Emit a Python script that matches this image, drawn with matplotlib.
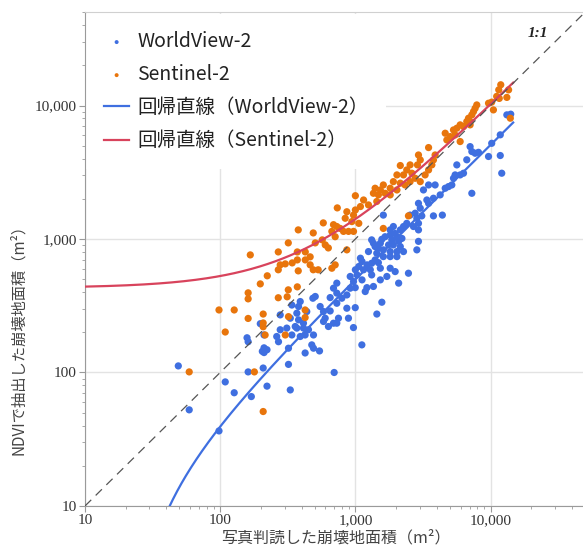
import matplotlib
matplotlib.use("Agg")
import matplotlib.pyplot as plt
from matplotlib.ticker import LogLocator, FuncFormatter, NullFormatter
import numpy as np

# ---- data (m2) ----
wv2_x = [49, 59, 98, 109, 127, 170, 161, 208, 222, 158, 161, 198, 211, 211, 211, 222, 205,
         689, 729, 794, 916, 998, 1217, 1183, 651, 505, 485, 391, 339, 380, 437, 549, 581, 651,
         729, 865, 865, 998, 889, 750, 729, 632, 581, 689, 598, 369, 278, 330, 380, 413, 359,
         311, 278, 369, 413, 450, 425, 490, 391, 339, 262, 270, 320, 476, 490, 543, 425, 320,
         697, 330, 968, 1117, 1442, 1570,
         4240, 3780, 3380, 3480, 2930, 3020, 2770, 2540, 2850, 3100, 2930, 2690, 2930, 3780,
         4400, 2400, 2270, 2150, 1910, 1810, 1970, 1810, 2030, 2210, 2090, 1860, 1660, 1570,
         1530, 1760, 1910, 2150, 2270, 2030, 1810, 1610, 1400, 1320, 1360, 1480, 1440, 1250,
         1610, 1810, 2030, 1400, 1480, 1320, 1220, 1120, 1090, 1060, 1000, 1150, 1290, 1530,
         1810, 1710, 1530, 1320, 1030, 916, 969, 1120, 1360, 1970, 2470, 2930, 2850, 2090,
         729, 1610, 3190, 3480, 3890,
         13200, 14100, 11800, 10200, 7060, 7270, 7690, 8140, 9660, 11800, 6670, 5630, 5960,
         5470, 6310, 5320, 5170, 4890, 4620, 12100, 7270]
wv2_y = [112, 52.5, 36.5, 85, 70.5, 66, 101, 108, 79, 182, 170, 232, 191, 153, 141, 148, 144,
         428, 393, 360, 428, 432, 432, 404, 364, 371, 360, 340, 320, 312, 286, 312, 286, 289,
         330, 381, 303, 306, 255, 255, 234, 221, 241, 234, 255, 278, 270, 255, 248, 234, 221,
         215, 209, 215, 215, 209, 191, 191, 186, 191, 186, 170, 152, 161, 152, 145, 140, 115,
         100, 74, 217, 161, 274, 336,
         2140, 2020, 1960, 1850, 1850, 1700, 1560, 1510, 1430, 1490, 1310, 1240, 1170, 1490,
         1510, 1310, 1240, 1170, 1240, 1170, 1100, 1070, 1040, 1010, 960, 985, 1040, 995,
         930, 903, 903, 877, 805, 805, 805, 829, 877, 985, 930, 853, 782, 805,
         738, 738, 738, 697, 665, 658, 640, 678, 718, 622, 588, 588, 588, 604,
         604, 524, 494, 538, 538, 524, 480, 494, 441, 570, 554, 960, 829, 467,
         467, 1510, 2330, 2540, 2540,
         8510, 8610, 6030, 5210, 4920, 4520, 4390, 4460, 4150, 4220, 3920, 3590, 3020,
         3020, 3110, 2850, 2540, 2470, 2400, 3110, 2200]

s2_x = [59, 98, 127, 109, 161, 179, 208, 208, 208, 215, 208,
        167, 269, 319, 378, 488, 579, 735, 463, 426, 372, 372, 426, 341, 303, 278, 269, 378,
        463, 488, 531, 505, 569, 599, 631, 223, 198, 161, 161, 269, 319, 372, 313,
        425, 425, 320, 303,
        1150, 1440, 1250, 1090, 1000, 865, 969, 841, 942, 1060, 689, 729, 772, 670, 817, 890,
        969, 709, 2470, 1610, 865, 709, 670,
        3480, 2930, 3020, 2880, 2540, 2400, 2150, 2030, 2270, 2620, 2770, 3020, 3280, 3480,
        3680, 3780, 3890, 2150, 1910, 1810, 1610, 1530, 1400, 1360, 1480, 1660, 1810, 2030,
        2330, 2540, 1000,
        11900, 11500, 13600, 11100, 13200, 11600, 9660, 10500, 7910, 7690, 7480, 7270, 6870,
        6670, 7060, 6310, 5960, 5630, 5320, 5470, 5030, 4750, 4620, 5960, 7060, 10200, 14000]
s2_y = [101, 294, 294, 201, 254, 101, 274, 235, 220, 191, 51,
        760, 800, 935, 1170, 1110, 1320, 1710, 735, 800, 800, 697, 697, 662, 651, 640, 588, 577,
        640, 588, 588, 935, 985, 903, 857, 530, 461, 395, 356, 363, 416, 438, 369,
        294, 258, 262, 191,
        1960, 1910, 1800, 1750, 1650, 1600, 1510, 1430, 1350, 1310, 1280, 1240, 1200, 1140,
        1140, 1140, 1140, 1040, 1490, 1200, 829, 640, 604,
        4840, 4260, 3910, 3590, 3590, 3290, 3550, 3020, 3020, 3110, 2850, 2690, 3020, 3290,
        3590, 3910, 4260, 2620, 2690, 2400, 2540, 2330, 2400, 2200, 2140, 2200, 2140, 2330,
        2540, 2690, 2110,
        14300, 13100, 13100, 11700, 11500, 11300, 10400, 9270, 10100, 9530, 9010, 8510, 8030,
        7580, 7160, 6950, 7160, 6760, 6560, 6020, 5850, 5520, 6200, 5370, 7580, 10600, 8030]

# regression lines y = a*x + b
wv2_fit = (0.508, -11.5)
s2_fit = (0.98, 430.0)
fit_xmax = 14700

labels = ["WorldView-2", "Sentinel-2", "回帰直線（WorldView-2）", "回帰直線（Sentinel-2）"]
blue = "#3f6fe0"
orange = "#e8750c"
red = "#d8435c"

plt.rcParams['font.family'] = ['Noto Sans CJK JP', 'DejaVu Sans']

fig = plt.figure(figsize=(5.83, 5.47), dpi=100)
ax = fig.add_axes([0.1458, 0.075, 0.854, 0.9027])
ax.set_xscale("log")
ax.set_yscale("log")
ax.set_xlim(10, 48200)
ax.set_ylim(10, 50000)

ax.scatter(wv2_x, wv2_y, s=27, color=blue, edgecolors="none", label=labels[0], zorder=3)
ax.scatter(s2_x, s2_y, s=27, color=orange, edgecolors="none", label=labels[1], zorder=3)

xx = np.logspace(1, np.log10(fit_xmax), 400)
yb = wv2_fit[0] * xx + wv2_fit[1]
yb = np.where(yb > 0, yb, np.nan)
ax.plot(xx, yb, color=blue, lw=1.6, label=labels[2], zorder=4)
ax.plot(xx, s2_fit[0] * xx + s2_fit[1], color=red, lw=1.6, label=labels[3], zorder=4)

ax.plot([10, 50000], [10, 50000], color="#555555", lw=0.9, dashes=(7, 5), zorder=4)
ax.text(22500, 34400, "1:1", family="Liberation Serif", style="italic", weight="bold",
        fontsize=11, color="#222222", ha="center", va="center")

# axes look
ax.grid(True, which="major", color="#e3e3e3", lw=1, zorder=0)
ax.set_axisbelow(True)
for sp in ["left", "bottom"]:
    ax.spines[sp].set_color("#9a9a9a")
ax.spines["top"].set_color("#d0d0d0")
ax.spines["right"].set_visible(False)

ax.xaxis.set_major_locator(LogLocator(base=10, numticks=10))
ax.yaxis.set_major_locator(LogLocator(base=10, numticks=10))
ax.xaxis.set_minor_locator(LogLocator(base=10, subs=np.arange(2, 10), numticks=20))
ax.yaxis.set_minor_locator(LogLocator(base=10, subs=np.arange(2, 10), numticks=20))
fmt = FuncFormatter(lambda v, p: f"{int(round(v)):,}" if v <= 10000 else "")
ax.xaxis.set_major_formatter(fmt)
ax.yaxis.set_major_formatter(fmt)
ax.xaxis.set_minor_formatter(NullFormatter())
ax.yaxis.set_minor_formatter(NullFormatter())
ax.tick_params(which="both", color="#9a9a9a", direction="out")
ax.tick_params(which="major", length=4, labelsize=11, labelcolor="#333333", pad=2)
ax.tick_params(which="minor", length=2.5)
for t in ax.get_xticklabels() + ax.get_yticklabels():
    t.set_family("Liberation Serif")

fig.text(0.576, 0.016, "写真判読した崩壊地面積（m²）", ha="center", va="center",
         fontsize=11.5, color="#444444")
fig.text(0.031, 0.386, "NDVIで抽出した崩壊地面積（m²）", ha="center", va="center",
         rotation=90, fontsize=11, color="#444444")

leg = ax.legend(loc="upper left", bbox_to_anchor=(0.003, 0.997), borderaxespad=0,
                borderpad=0.9, fontsize=14, handlelength=1.3, handletextpad=0.4,
                labelspacing=0.62, markerscale=0.55, frameon=True, fancybox=False)
leg.get_frame().set_facecolor("white")
leg.get_frame().set_edgecolor("none")
leg.get_frame().set_alpha(1)
leg.set_zorder(2.4)
for t in leg.get_texts():
    t.set_color("#222222")

fig.savefig("out.png", dpi=100)
